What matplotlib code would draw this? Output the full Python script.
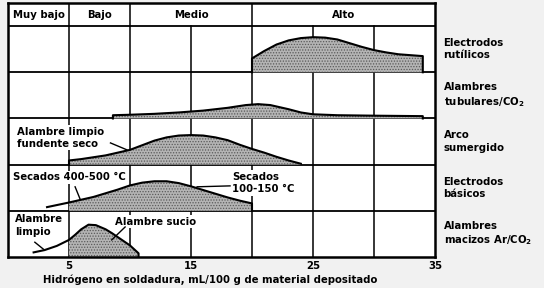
import matplotlib.pyplot as plt
import numpy as np

plt.rcParams['font.family'] = ['DejaVu Sans']
plt.rcParams['font.weight'] = 'bold'
plt.rcParams['axes.labelweight'] = 'bold'
plt.rcParams['mathtext.default'] = 'bf'
plt.rcParams['hatch.linewidth'] = 0.6

FS = 7.3

# hydrogen scale (mL/100 g) and level bands shown in the header
ticks = [5, 15, 25, 35]
levels = ["Muy bajo", "Bajo", "Medio", "Alto"]
level_edges = [0, 5, 10, 20, 35]

# processes, top row first
processes = ["Electrodos\nrutílicos", "Alambres\ntubulares/CO$_2$", "Arco\nsumergido",
             "Electrodos\nbásicos", "Alambres\nmacizos Ar/CO$_2$"]

# curves: x = hydrogen, h = relative height inside its row
rutilo_x = [20, 21, 22, 23, 24, 25, 26, 27, 28, 29, 30, 31, 32, 33, 34]
rutilo_h = [0.30, 0.46, 0.60, 0.69, 0.74, 0.76, 0.75, 0.71, 0.63, 0.55, 0.48, 0.43, 0.39, 0.37, 0.35]

tubular_x = [8.6, 10, 12, 14, 16, 18, 19.5, 20.5, 21.5, 23, 24, 25, 27, 30, 34]
tubular_h = [0.07, 0.08, 0.10, 0.13, 0.17, 0.23, 0.29, 0.31, 0.29, 0.20, 0.13, 0.09, 0.07, 0.06, 0.05]

arco_x = [5, 6, 7, 8, 9, 10, 11, 12, 13, 14, 15, 16, 17, 18, 19, 20, 21, 22, 23, 24]
arco_h = [0.09, 0.12, 0.16, 0.20, 0.26, 0.32, 0.42, 0.52, 0.59, 0.63, 0.64, 0.63, 0.59, 0.53, 0.43, 0.34, 0.26, 0.17, 0.09, 0.02]

basico_x = [3.2, 5, 6, 7, 8, 9, 10, 11, 12, 13, 14, 15, 16, 17, 18, 19, 20]
basico_h = [0.08, 0.18, 0.24, 0.30, 0.38, 0.46, 0.55, 0.61, 0.64, 0.64, 0.60, 0.53, 0.45, 0.37, 0.29, 0.22, 0.16]

macizo_x = [2.1, 3, 4, 5, 5.5, 6, 6.6, 7.2, 8, 8.5, 9, 9.5, 10, 10.7]
macizo_h = [0.10, 0.15, 0.24, 0.37, 0.48, 0.60, 0.70, 0.69, 0.60, 0.52, 0.43, 0.34, 0.25, 0.08]

curves = [(rutilo_x, rutilo_h), (tubular_x, tubular_h), (arco_x, arco_h),
          (basico_x, basico_h), (macizo_x, macizo_h)]

fig = plt.figure(figsize=(5.44, 2.88), dpi=100, facecolor='#f1f1f1')
ax = fig.add_axes([8 / 544, 31 / 288, 427 / 544, 254 / 288])
ax.set_facecolor('white')
ax.set_xlim(0, 35)
ax.set_ylim(0, 5.5)

n = len(processes)
# grid
for k in range(1, n + 1):
    ax.axhline(k, color='black', lw=1.3, zorder=1)
for xv in [5, 10, 15, 20, 25, 30]:
    ax.plot([xv, xv], [0, n], color='black', lw=1.1, zorder=1)
for xv in level_edges[1:-1]:
    ax.plot([xv, xv], [n, 5.5], color='black', lw=1.1, zorder=1)

for lab, a, b in zip(levels, level_edges[:-1], level_edges[1:]):
    ax.text((a + b) / 2, 5.25, lab, ha='center', va='center', fontsize=FS)

for i, ((xs, hs), name) in enumerate(zip(curves, processes)):
    base = n - 1 - i
    xs = np.array(xs)
    ys = base + np.array(hs)
    # the two lowest rows are only shaded from 5 mL/100 g on
    shade = xs >= 5 if i >= 3 else xs >= 0
    ax.fill_between(xs[shade], base, ys[shade], facecolor='#b4b4b4', edgecolor='#5a5a5a',
                    hatch='......', lw=0, zorder=2)
    if i in (0, 1):
        lx = [xs[0]] + list(xs) + [xs[-1]]
        ly = [base] + list(ys) + [base]
    elif i == 2:
        lx = [xs[0]] + list(xs)
        ly = [base] + list(ys)
    else:
        lx = list(xs) + [xs[-1]]
        ly = list(ys) + [base]
    ax.plot(lx, ly, color='black', lw=1.5, zorder=3, solid_joinstyle='round')
    ax.text(35.7, base + 0.5, name, ha='left', va='center', fontsize=FS,
            linespacing=1.3, clip_on=False)

box = dict(facecolor='white', edgecolor='none', pad=1)
ax.text(0.7, 2.58, "Alambre limpio\nfundente seco", fontsize=FS, va='center', linespacing=1.3,
        bbox=box, zorder=4)
ax.plot([8.4, 9.75], [2.47, 2.32], color='black', lw=1, zorder=5)
ax.text(0.4, 1.73, "Secados 400-500 °C", fontsize=FS, va='center', bbox=box, zorder=4)
ax.plot([5.5, 5.9], [1.52, 1.26], color='black', lw=1, zorder=5)
ax.text(18.4, 1.6, "Secados\n100-150 °C", fontsize=FS, va='center', linespacing=1.3,
        bbox=box, zorder=4)
ax.plot([15.5, 18.2], [1.52, 1.54], color='black', lw=1, zorder=5)
ax.text(0.55, 0.68, "Alambre\nlimpio", fontsize=FS, va='center', linespacing=1.4, zorder=4)
ax.plot([2.2, 2.9], [0.32, 0.17], color='black', lw=1, zorder=5)
ax.text(8.8, 0.76, "Alambre sucio", fontsize=FS, va='center', bbox=box, zorder=4)
ax.plot([9.6, 8.5], [0.65, 0.37], color='black', lw=1, zorder=5)

for s in ax.spines.values():
    s.set_linewidth(1.8)
ax.set_yticks([])
ax.set_xticks(ticks)
ax.set_xticklabels([str(t) for t in ticks], fontsize=FS)
ax.tick_params(axis='x', length=0, pad=3)
ax.set_xlabel("Hidrógeno en soldadura, mL/100 g de material depositado", fontsize=FS,
              fontweight='bold')
ax.xaxis.set_label_coords(202 / 427, -0.07)

fig.savefig("out.png", dpi=100, facecolor=fig.get_facecolor())
